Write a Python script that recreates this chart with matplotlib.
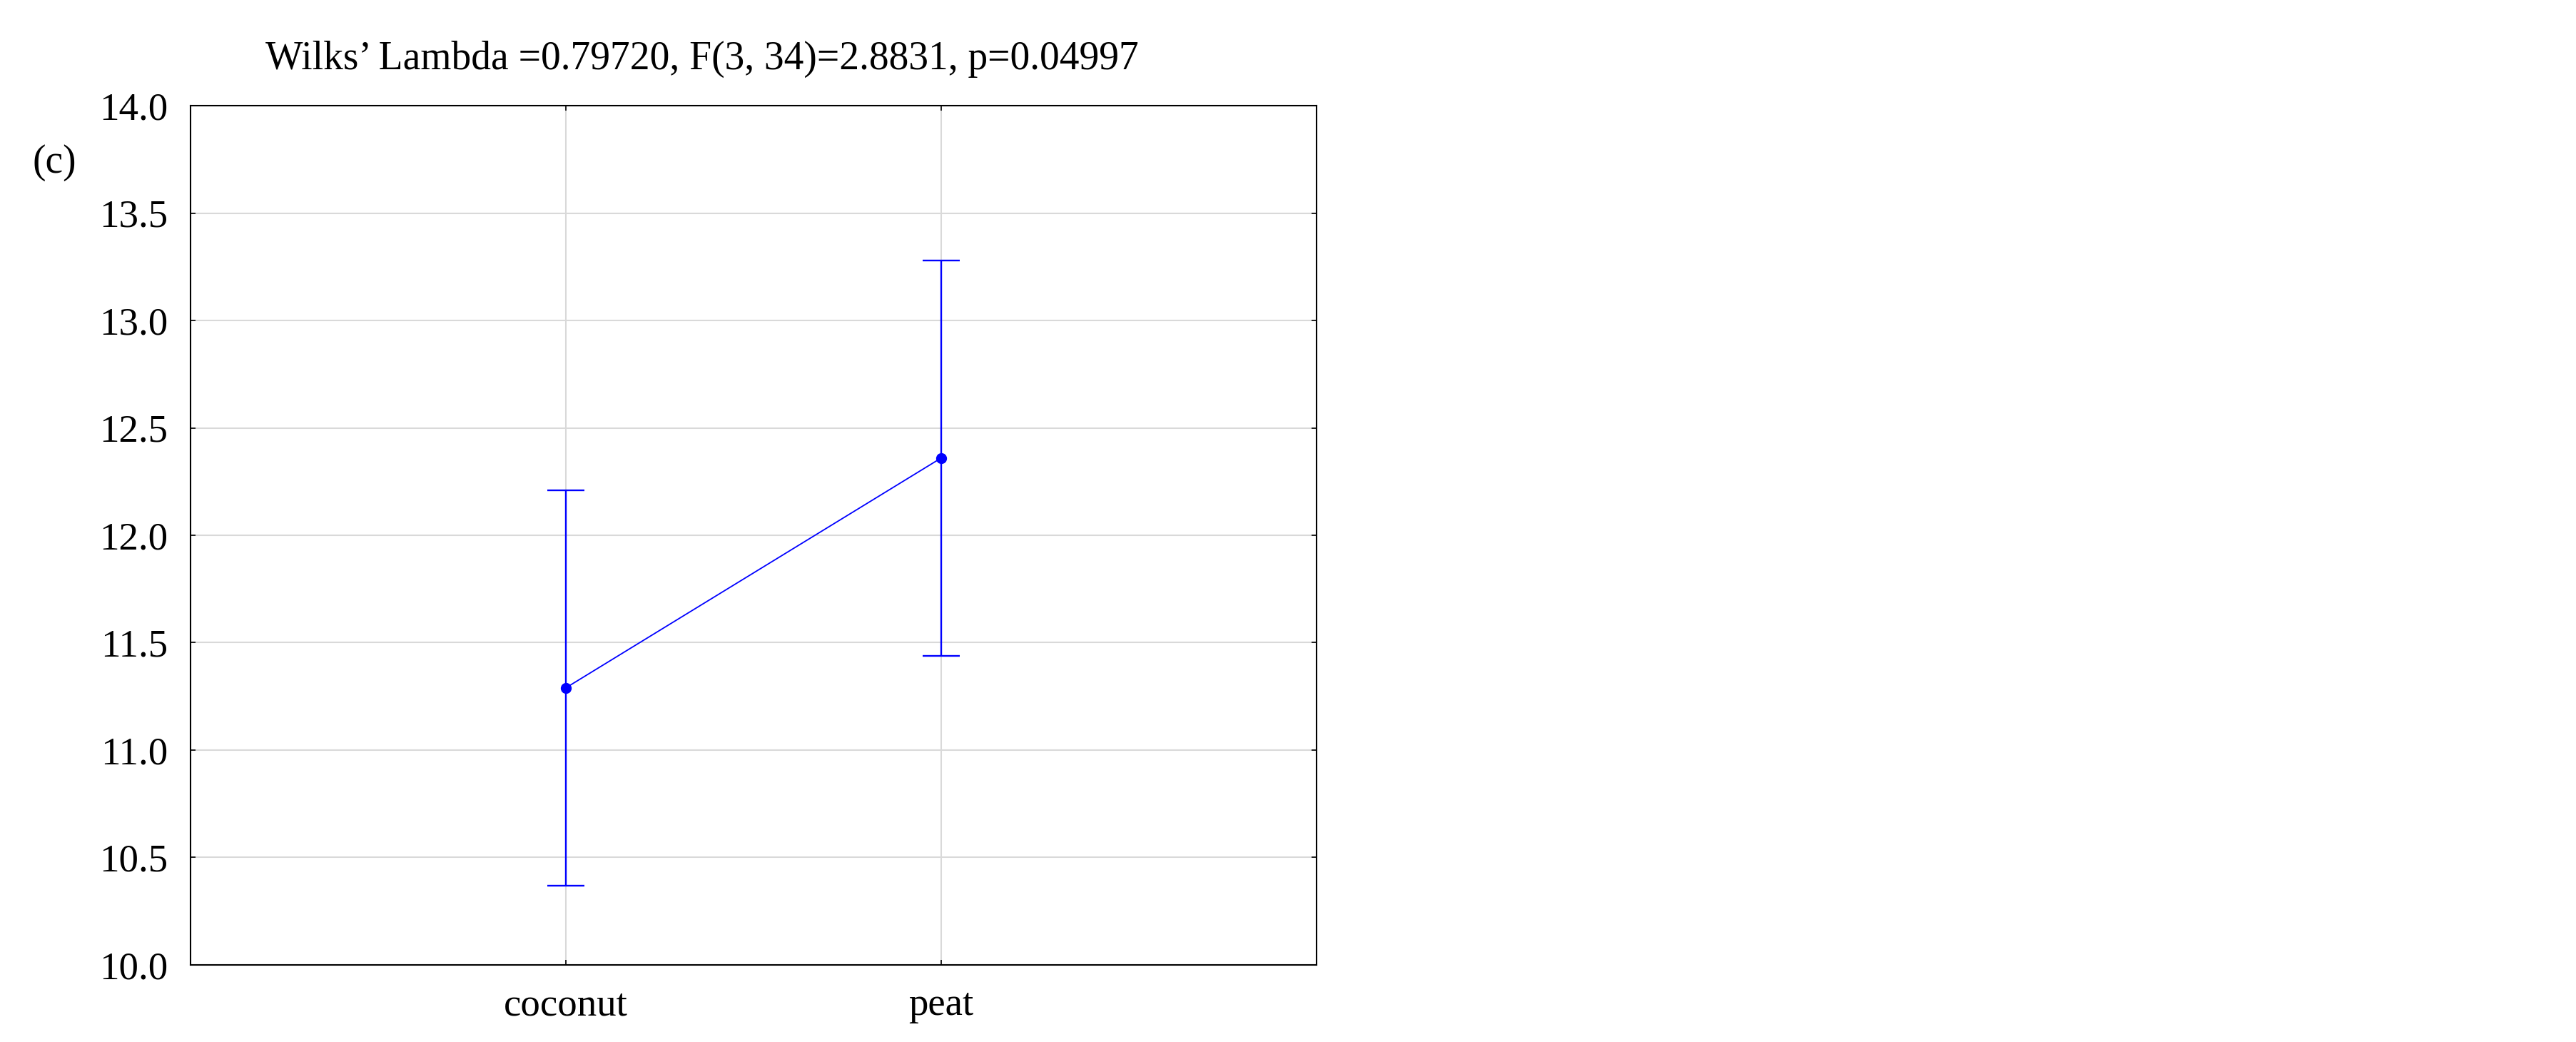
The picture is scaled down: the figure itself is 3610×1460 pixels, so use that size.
import matplotlib
matplotlib.use('Agg')
import matplotlib.pyplot as plt
import numpy as np

# values
groups = ['coconut', 'peat']
means = [11.29, 12.36]
lower = [10.37, 11.44]
upper = [12.21, 13.28]
title = 'Wilks\u2019 Lambda =0.79720, F(3, 34)=2.8831, p=0.04997'
panel = '(c)'

plt.rcParams['font.family'] = ['Liberation Serif', 'DejaVu Serif']

fig = plt.figure(figsize=(36.1, 14.6), dpi=100)
ax = fig.add_axes([0.0740, 0.074, 0.4371, 0.8246])

x = np.arange(1, len(groups) + 1)
m = np.array(means)
yerr = [m - np.array(lower), np.array(upper) - m]

ax.plot(x, m, color='#0000ff', linewidth=1.3, zorder=3)
ax.errorbar(x, m, yerr=yerr, fmt='o', color='#0000ff', markersize=10,
            elinewidth=1.7, capsize=19, capthick=1.7, zorder=4)

ax.set_xlim(0, 3)
ax.set_ylim(10, 14)
ax.set_xticks(x)
ax.set_xticklabels(groups)
ax.set_yticks(np.arange(10, 14.01, 0.5))
ax.set_yticklabels(['%.1f' % v for v in np.arange(10, 14.01, 0.5)])

ax.grid(True, color='#d9d9d9', linewidth=1.5)
ax.set_axisbelow(True)
ax.tick_params(direction='in', length=5, width=1.2, labelsize=39.5,
               top=True, right=True, pad=23)
for s in ax.spines.values():
    s.set_linewidth(1.5)
    s.set_color('black')

fig.text(0.2726, 1 - 97 / 1460, title, ha='center', va='baseline', fontsize=40)
fig.text(76 / 3610, 1 - 228 / 1460, panel, ha='center', va='center', fontsize=40)

fig.savefig('out.png', dpi=100)
